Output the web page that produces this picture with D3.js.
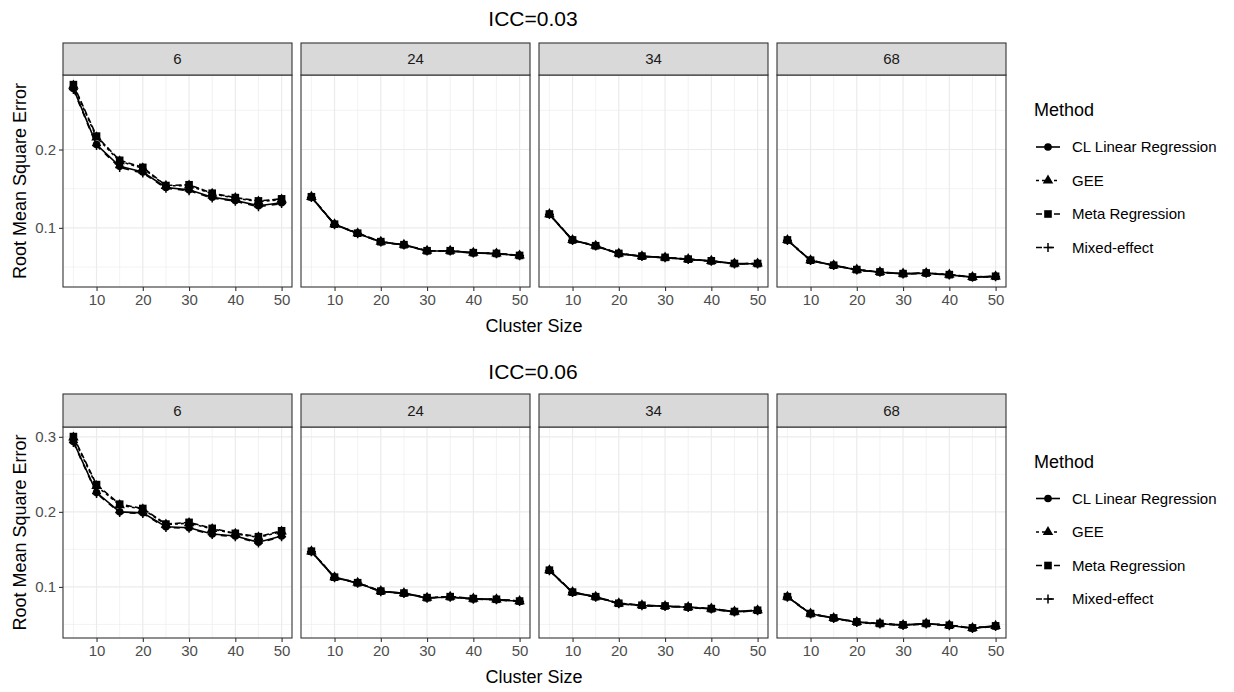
<!DOCTYPE html>
<html>
<head>
<meta charset="utf-8">
<title>RMSE by cluster size</title>
<script src="https://cdn.jsdelivr.net/npm/d3@7"></script>
<style>
    body { margin: 0; background: #fff; }
    text { font-family: "Liberation Sans", Arial, sans-serif; }
</style>
</head>
<body>
<svg width="1234" height="692"></svg>
<script>

// cluster sizes on the x axis, number of clusters in the strips
var clusterSizes = [5, 10, 15, 20, 25, 30, 35, 40, 45, 50];
var numClusters = ["6", "24", "34", "68"];
var methods = ["CL Linear Regression", "GEE", "Meta Regression", "Mixed-effect"];
var iccTitles = ["ICC=0.03", "ICC=0.06"];

// ICC = 0.03, one row per panel (6, 24, 34, 68)
var clLinear003 = [
    [0.2780, 0.2064, 0.1785, 0.1713, 0.1515, 0.1485, 0.1390, 0.1348, 0.1283, 0.1320],
    [0.1391, 0.1043, 0.0928, 0.0820, 0.0782, 0.0705, 0.0705, 0.0680, 0.0671, 0.0645],
    [0.1172, 0.0842, 0.0769, 0.0671, 0.0636, 0.0620, 0.0598, 0.0576, 0.0542, 0.0542],
    [0.0842, 0.0584, 0.0520, 0.0464, 0.0434, 0.0413, 0.0421, 0.0400, 0.0370, 0.0379]
];
var gee003 = [
    [0.2815, 0.2155, 0.1850, 0.1760, 0.1535, 0.1540, 0.1435, 0.1380, 0.1335, 0.1360],
    [0.1395, 0.1046, 0.0931, 0.0823, 0.0784, 0.0707, 0.0707, 0.0682, 0.0673, 0.0647],
    [0.1175, 0.0845, 0.0771, 0.0673, 0.0638, 0.0622, 0.0600, 0.0578, 0.0544, 0.0544],
    [0.0845, 0.0586, 0.0522, 0.0466, 0.0436, 0.0415, 0.0423, 0.0402, 0.0372, 0.0381]
];
var meta003 = [
    [0.2828, 0.2171, 0.1862, 0.1772, 0.1540, 0.1550, 0.1442, 0.1386, 0.1344, 0.1370],
    [0.1397, 0.1047, 0.0932, 0.0824, 0.0785, 0.0708, 0.0708, 0.0683, 0.0674, 0.0648],
    [0.1177, 0.0846, 0.0772, 0.0674, 0.0639, 0.0623, 0.0601, 0.0579, 0.0545, 0.0545],
    [0.0846, 0.0587, 0.0523, 0.0467, 0.0437, 0.0416, 0.0424, 0.0403, 0.0373, 0.0382]
];
var mixed003 = [
    [0.2765, 0.2050, 0.1770, 0.1700, 0.1505, 0.1475, 0.1380, 0.1340, 0.1270, 0.1310],
    [0.1388, 0.1040, 0.0926, 0.0818, 0.0780, 0.0703, 0.0703, 0.0678, 0.0669, 0.0643],
    [0.1170, 0.0840, 0.0767, 0.0669, 0.0634, 0.0618, 0.0596, 0.0574, 0.0540, 0.0540],
    [0.0840, 0.0582, 0.0518, 0.0462, 0.0432, 0.0411, 0.0419, 0.0398, 0.0368, 0.0377]
];

// ICC = 0.06
var clLinear006 = [
    [0.2936, 0.2257, 0.2000, 0.1987, 0.1801, 0.1788, 0.1705, 0.1678, 0.1595, 0.1678],
    [0.1470, 0.1126, 0.1052, 0.0940, 0.0914, 0.0853, 0.0866, 0.0840, 0.0831, 0.0808],
    [0.1219, 0.0927, 0.0866, 0.0778, 0.0752, 0.0742, 0.0728, 0.0707, 0.0668, 0.0685],
    [0.0866, 0.0641, 0.0583, 0.0530, 0.0509, 0.0490, 0.0509, 0.0486, 0.0450, 0.0477]
];
var gee006 = [
    [0.2990, 0.2345, 0.2090, 0.2035, 0.1830, 0.1850, 0.1772, 0.1708, 0.1660, 0.1738],
    [0.1474, 0.1129, 0.1055, 0.0943, 0.0917, 0.0856, 0.0869, 0.0843, 0.0834, 0.0811],
    [0.1222, 0.0930, 0.0869, 0.0781, 0.0755, 0.0745, 0.0731, 0.0710, 0.0671, 0.0688],
    [0.0869, 0.0644, 0.0586, 0.0533, 0.0512, 0.0493, 0.0512, 0.0489, 0.0453, 0.0480]
];
var meta006 = [
    [0.3003, 0.2363, 0.2102, 0.2045, 0.1837, 0.1860, 0.1780, 0.1714, 0.1669, 0.1748],
    [0.1476, 0.1130, 0.1056, 0.0944, 0.0918, 0.0857, 0.0870, 0.0844, 0.0835, 0.0812],
    [0.1223, 0.0931, 0.0870, 0.0782, 0.0756, 0.0746, 0.0732, 0.0711, 0.0672, 0.0689],
    [0.0870, 0.0645, 0.0587, 0.0534, 0.0513, 0.0494, 0.0513, 0.0490, 0.0454, 0.0481]
];
var mixed006 = [
    [0.2925, 0.2245, 0.1990, 0.1978, 0.1792, 0.1780, 0.1697, 0.1670, 0.1585, 0.1670],
    [0.1467, 0.1123, 0.1049, 0.0937, 0.0911, 0.0850, 0.0863, 0.0837, 0.0828, 0.0805],
    [0.1216, 0.0924, 0.0863, 0.0775, 0.0749, 0.0739, 0.0725, 0.0704, 0.0665, 0.0682],
    [0.0863, 0.0638, 0.0580, 0.0527, 0.0506, 0.0487, 0.0506, 0.0483, 0.0447, 0.0474]
];

var rows = [
    [clLinear003, gee003, meta003, mixed003],
    [clLinear006, gee006, meta006, mixed006]
];

var svg = d3.select("svg");

var panelLeft = [63, 301, 539, 777],
    panelW = 229,
    rowLayout = [
        { title: 26, strip: 43, top: 75, bottom: 287 },
        { title: 379, strip: 394, top: 427, bottom: 638 }
    ];

var dashes = [null, "3,3", "6,3", "6,6"];
var symbols = [d3.symbolCircle, d3.symbolTriangle, d3.symbolSquare, null];
var symbolSizes = [46, 48, 58, 0];

var x = d3.scaleLinear()
    .domain([5 - 2.25, 50 + 2.25])
    .range([0, panelW]);

function drawMarker(sel, m) {
    if (symbols[m]) {
        sel.append("path")
            .attr("d", d3.symbol().type(symbols[m]).size(symbolSizes[m]))
            .attr("fill", "#000");
    } else {
        sel.append("path")
            .attr("d", "M-4.5,0H4.5M0,-4.5V4.5")
            .attr("stroke", "#000")
            .attr("stroke-width", 1.5);
    }
}

rows.forEach(function(series, r) {
    var lay = rowLayout[r];
    var all = d3.merge(series.map(function(s) { return d3.merge(s); }));
    var ext = d3.extent(all), pad = (ext[1] - ext[0]) * 0.05;
    var y = d3.scaleLinear()
        .domain([ext[0] - pad, ext[1] + pad])
        .range([lay.bottom, lay.top]);

    var majorY = [0.1, 0.2, 0.3].filter(function(v) { return v >= y.domain()[0] && v <= y.domain()[1]; });
    var minorY = [0.05, 0.15, 0.25].filter(function(v) { return v >= y.domain()[0] && v <= y.domain()[1]; });

    svg.append("text")
        .attr("x", 533)
        .attr("y", lay.title)
        .attr("text-anchor", "middle")
        .attr("font-size", 21)
        .attr("fill", "#000")
        .text(iccTitles[r]);

    numClusters.forEach(function(k, p) {
        var g = svg.append("g").attr("transform", "translate(" + panelLeft[p] + ",0)");

        // grid
        g.selectAll(".minx").data([5, 15, 25, 35, 45]).enter().append("line")
            .attr("x1", x).attr("x2", x)
            .attr("y1", lay.top).attr("y2", lay.bottom)
            .attr("stroke", "#EBEBEB").attr("stroke-width", 0.6);
        g.selectAll(".miny").data(minorY).enter().append("line")
            .attr("x1", 0).attr("x2", panelW)
            .attr("y1", y).attr("y2", y)
            .attr("stroke", "#EBEBEB").attr("stroke-width", 0.6);
        g.selectAll(".majx").data([10, 20, 30, 40, 50]).enter().append("line")
            .attr("x1", x).attr("x2", x)
            .attr("y1", lay.top).attr("y2", lay.bottom)
            .attr("stroke", "#EBEBEB").attr("stroke-width", 1.2);
        g.selectAll(".majy").data(majorY).enter().append("line")
            .attr("x1", 0).attr("x2", panelW)
            .attr("y1", y).attr("y2", y)
            .attr("stroke", "#EBEBEB").attr("stroke-width", 1.2);

        // lines first, then points
        var line = d3.line()
            .x(function(d, i) { return x(clusterSizes[i]); })
            .y(function(d) { return y(d); });

        series.forEach(function(s, m) {
            g.append("path")
                .datum(s[p])
                .attr("d", line)
                .attr("fill", "none")
                .attr("stroke", "#000")
                .attr("stroke-width", 1.6)
                .attr("stroke-dasharray", dashes[m]);
        });
        series.forEach(function(s, m) {
            s[p].forEach(function(v, i) {
                var mk = g.append("g")
                    .attr("transform", "translate(" + x(clusterSizes[i]) + "," + y(v) + ")");
                drawMarker(mk, m);
            });
        });

        // border
        g.append("rect")
            .attr("x", 0).attr("y", lay.top)
            .attr("width", panelW).attr("height", lay.bottom - lay.top)
            .attr("fill", "none").attr("stroke", "#333333").attr("stroke-width", 1.1);

        // strip
        g.append("rect")
            .attr("x", 0).attr("y", lay.strip)
            .attr("width", panelW).attr("height", lay.top - lay.strip)
            .attr("fill", "#D9D9D9").attr("stroke", "#333333").attr("stroke-width", 1.1);
        g.append("text")
            .attr("x", panelW / 2)
            .attr("y", (lay.strip + lay.top) / 2 + 5)
            .attr("text-anchor", "middle")
            .attr("font-size", 15)
            .attr("fill", "#1A1A1A")
            .text(k);

        // x axis
        var xa = g.append("g")
            .attr("transform", "translate(0," + lay.bottom + ")")
            .call(d3.axisBottom(x).tickValues([10, 20, 30, 40, 50]).tickSize(4).tickPadding(3));
        xa.select(".domain").remove();
        xa.selectAll("line").attr("stroke", "#333333").attr("stroke-width", 1.1);
        xa.selectAll("text").attr("font-size", 15).attr("fill", "#4D4D4D")
            .attr("font-family", "Liberation Sans, Arial, sans-serif");

        if (p === 0) {
            var ya = g.append("g")
                .call(d3.axisLeft(y).tickValues(majorY).tickFormat(d3.format(".1f")).tickSize(4).tickPadding(3));
            ya.select(".domain").remove();
            ya.selectAll("line").attr("stroke", "#333333").attr("stroke-width", 1.1);
            ya.selectAll("text").attr("font-size", 15).attr("fill", "#4D4D4D")
                .attr("font-family", "Liberation Sans, Arial, sans-serif");
        }
    });

    // axis titles
    svg.append("text")
        .attr("x", 534)
        .attr("y", lay.bottom + 45)
        .attr("text-anchor", "middle")
        .attr("font-size", 18)
        .attr("fill", "#000")
        .text("Cluster Size");

    svg.append("text")
        .attr("transform", "translate(26," + (lay.top + lay.bottom) / 2 + ") rotate(-90)")
        .attr("text-anchor", "middle")
        .attr("font-size", 18)
        .attr("fill", "#000")
        .text("Root Mean Square Error");

    // legend
    var legTop = (lay.top + lay.bottom) / 2 - 71;
    var leg = svg.append("g").attr("transform", "translate(1034," + legTop + ")");
    leg.append("text")
        .attr("x", 0).attr("y", 6)
        .attr("font-size", 18)
        .attr("fill", "#000")
        .text("Method");

    methods.forEach(function(name, m) {
        var cy = 37 + m * 33.5;
        var item = leg.append("g").attr("transform", "translate(0," + cy + ")");
        item.append("line")
            .attr("x1", 2).attr("x2", 26)
            .attr("stroke", "#000")
            .attr("stroke-width", 1.6)
            .attr("stroke-dasharray", dashes[m]);
        var mk = item.append("g").attr("transform", "translate(14,0)");
        drawMarker(mk, m);
        item.append("text")
            .attr("x", 38).attr("y", 5)
            .attr("font-size", 15)
            .attr("fill", "#000")
            .text(name);
    });
});

</script>
</body>
</html>
